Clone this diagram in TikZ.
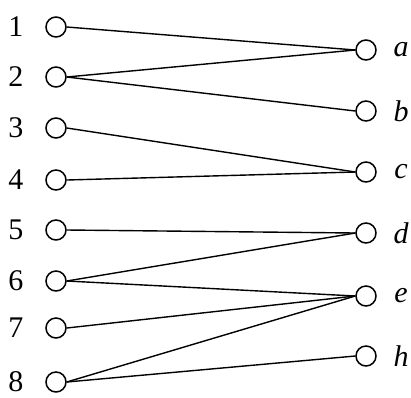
\documentclass[tikz,border=0pt]{standalone}
\usepackage{fontspec}
\setmainfont{Liberation Serif}
\begin{document}
\begin{tikzpicture}[x=1pt,y=-1pt,
  vtx/.style={circle,draw,line width=1.5pt,minimum size=20pt,inner sep=0pt},
  lbl/.style={font=\fontsize{30}{34}\selectfont,inner sep=0pt},
  edge/.style={line width=1.4pt}]
\useasboundingbox (0,0) rectangle (411,397);
\foreach \n/\y in {1/27,2/77,3/128,4/180,5/230,6/281,7/328,8/382}{
  \node[vtx] (l\n) at (56,\y) {};
  \node[lbl] (t\n) at (16,\y) {\n};
}
\foreach \n/\y in {a/50,b/111,c/172,d/233,e/296,h/356}{
  \node[vtx] (r\n) at (366,\y) {};
  \node[lbl] (u\n) at (401,\y) {\itshape\n};
}
\foreach \a/\b in {1/a,2/a,2/b,3/c,4/c,5/d,6/d,6/e,7/e,8/e,8/h}{
  \draw[edge] (l\a.east) -- (r\b.west);
}
\end{tikzpicture}
\end{document}
